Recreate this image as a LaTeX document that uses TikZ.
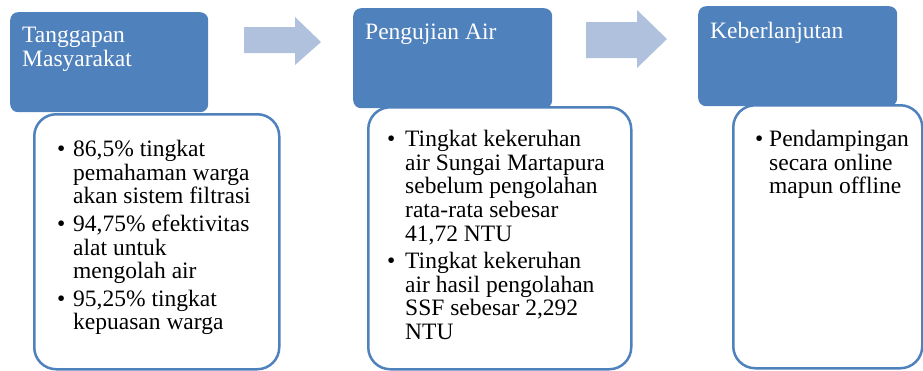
\documentclass[tikz,border=0pt]{standalone}
\usepackage{fontspec}
\setmainfont{Liberation Serif}
\usetikzlibrary{positioning}

\definecolor{headblue}{RGB}{79,129,189}
\definecolor{arrowblue}{RGB}{176,193,221}

\newcommand{\bl}{\textbullet}

\begin{document}
\begin{tikzpicture}[x=1pt,y=-1pt]
\tikzset{
  headbox/.style={rectangle,rounded corners=8pt,fill=headblue,draw=none,anchor=north west,inner sep=0pt},
  bodybox/.style={rectangle,rounded corners=22pt,fill=white,draw=headblue,line width=2.5pt,anchor=north west,inner sep=0pt},
  headtext/.style={anchor=north west,inner sep=0pt,text=white,align=left,font=\fontsize{23.5}{23.5}\selectfont},
  listtext/.style={anchor=north west,inner sep=0pt,align=left,font=\fontsize{23.5}{23.6}\selectfont},
  flowarrow/.style={fill=arrowblue,draw=none}
}
\useasboundingbox (0,0) rectangle (923,370);
% headers
\node[headbox,minimum width=198pt,minimum height=100pt] (head_1) at (10,12) {};
\node[headbox,minimum width=199pt,minimum height=100pt] (head_2) at (353,8) {};
\node[headbox,minimum width=199pt,minimum height=100pt] (head_3) at (698,6) {};
% bodies
\node[bodybox,minimum width=245pt,minimum height=255pt] (body_1) at (33,113) {};
\node[bodybox,minimum width=263pt,minimum height=262pt] (body_2) at (367,106) {};
\node[bodybox,minimum width=189pt,minimum height=263pt] (body_3) at (732,104) {};
% titles
\node[headtext] (title_1) at (22,27) {Tanggapan\\Masyarakat};
\node[headtext] (title_2) at (365,24) {Pengujian Air};
\node[headtext] (title_3) at (710,22) {Keberlanjutan};
% lists
\node[listtext] (list_1) at (57,140) {%
  \begin{tabular}{@{}p{16pt}@{}l@{}}
  \bl & 86,5\% tingkat\\
      & pemahaman warga\\
      & akan sistem filtrasi\\[4pt]
  \bl & 94,75\% efektivitas\\
      & alat untuk\\
      & mengolah air\\[4pt]
  \bl & 95,25\% tingkat\\
      & kepuasan warga
  \end{tabular}};
\node[listtext] (list_2) at (387,130) {%
  \begin{tabular}{@{}p{18pt}@{}l@{}}
  \bl & Tingkat kekeruhan\\
      & air Sungai Martapura\\
      & sebelum pengolahan\\
      & rata-rata sebesar\\
      & 41,72 NTU\\[4pt]
  \bl & Tingkat kekeruhan\\
      & air hasil pengolahan\\
      & SSF sebesar 2,292\\
      & NTU
  \end{tabular}};
\node[listtext] (list_3) at (755,130) {%
  \begin{tabular}{@{}p{14pt}@{}l@{}}
  \bl & Pendampingan\\
      & secara online\\
      & mapun offline
  \end{tabular}};
% arrows between steps
\fill[flowarrow] (244,27) -- (295,27) -- (295,17) -- (321,42) -- (295,65) -- (295,53) -- (244,53) -- cycle;
\fill[flowarrow] (586,22) -- (637,22) -- (637,10) -- (667,39) -- (637,68) -- (637,58) -- (586,58) -- cycle;
\end{tikzpicture}
\end{document}
